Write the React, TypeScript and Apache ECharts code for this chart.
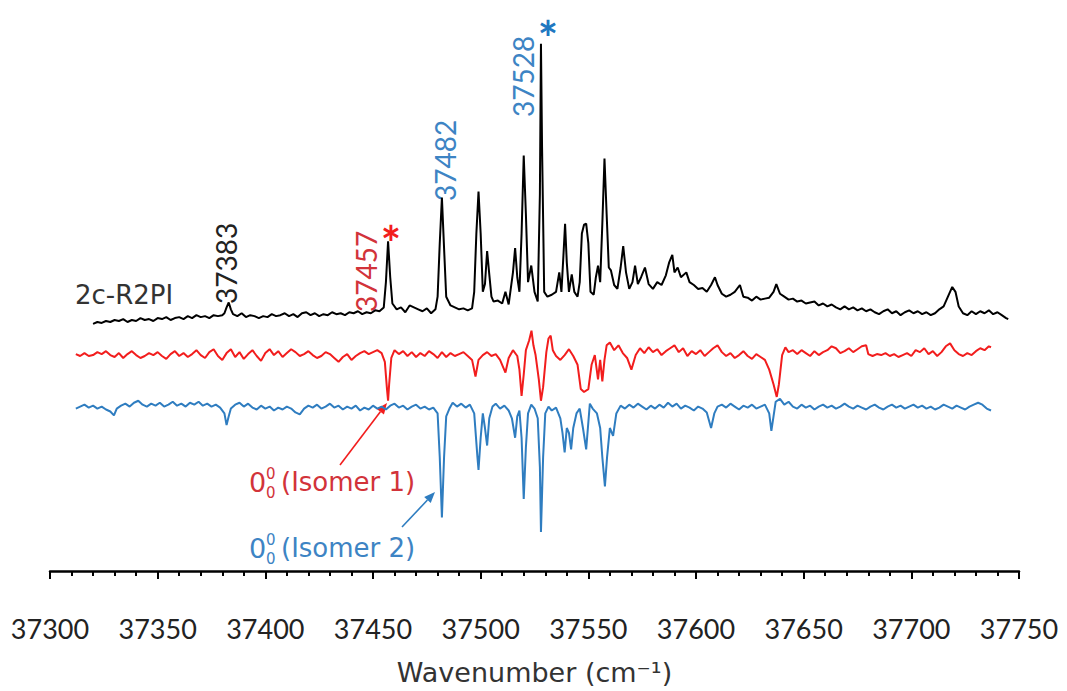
import React, { useEffect, useRef } from "react";
import * as echarts from "echarts";

// Wavenumber axis (cm^-1)
const X_MIN = 37300;
const X_MAX = 37750;
const X_STEP = 50;

// Display depth of each trace (stacked plot, grows downward, 0 = top of plot,
// 587 = wavenumber axis). Each trace keeps its own vertical offset.
const DEPTH_MAX = 587;

// 2c-R2PI spectrum: [wavenumber, depth]
const r2piTrace: [number, number][] = [
  [37320, 333], [37322, 331], [37324, 332], [37326, 330], [37328, 331], [37330, 329],
  [37332, 330], [37334, 328], [37336, 331], [37338, 329], [37340, 330], [37342, 327],
  [37344, 329], [37346, 328], [37348, 330], [37350, 327], [37352, 328], [37354, 326],
  [37356, 329], [37358, 327], [37360, 326], [37362, 328], [37364, 325], [37366, 327],
  [37368, 324], [37370, 326], [37372, 325], [37374, 327], [37376, 324], [37378, 325],
  [37380, 324], [37381, 322], [37382, 316], [37383, 311], [37384, 318], [37385, 323],
  [37387, 325], [37389, 322], [37391, 326], [37393, 324], [37395, 325], [37397, 327],
  [37399, 325], [37401, 326], [37403, 323], [37405, 325], [37407, 324], [37409, 322],
  [37411, 325], [37413, 323], [37415, 326], [37417, 322], [37419, 321], [37421, 324],
  [37423, 322], [37425, 325], [37427, 323], [37429, 324], [37431, 321], [37433, 323],
  [37435, 322], [37437, 324], [37439, 321], [37441, 322], [37443, 320], [37445, 323],
  [37447, 321], [37449, 322], [37451, 319], [37453, 320], [37455, 316], [37456, 290],
  [37457, 248], [37458, 285], [37459, 312], [37461, 318], [37463, 316], [37465, 321],
  [37467, 314], [37469, 316], [37471, 318], [37473, 320], [37475, 317], [37477, 322],
  [37479, 318], [37480, 305], [37481, 250], [37482, 203], [37483, 255], [37484, 305],
  [37486, 314], [37488, 316], [37490, 318], [37492, 317], [37494, 319], [37496, 317],
  [37497, 300], [37498, 240], [37499, 197], [37500, 240], [37501, 300], [37502, 292],
  [37503, 258], [37504, 282], [37505, 305], [37506, 310], [37508, 309], [37510, 312],
  [37511.5, 300], [37513, 313], [37515, 280], [37516, 255], [37517, 285], [37518, 300],
  [37519, 240], [37520, 160], [37521, 220], [37522, 290], [37523.5, 273], [37525, 300],
  [37526.5, 310], [37527.5, 200], [37528, 45], [37528.5, 150], [37529.5, 300], [37531, 305],
  [37533, 303], [37535, 300], [37536.5, 280], [37537.5, 300], [37538.5, 260], [37539.2, 230],
  [37540, 270], [37541, 300], [37542.3, 282], [37543.5, 300], [37545, 305], [37546, 290],
  [37547, 240], [37548, 231], [37549, 230], [37550, 250], [37551, 300], [37552.5, 303],
  [37553.5, 285], [37554.5, 273], [37555.5, 290], [37556.5, 230], [37557.5, 163], [37558.5, 220],
  [37559.5, 275], [37560.5, 278], [37562, 293], [37563.5, 297], [37565, 275], [37566.2, 253],
  [37567.5, 280], [37569, 297], [37570.5, 290], [37571.7, 273], [37573, 292], [37574.5, 285],
  [37576.3, 275], [37578, 292], [37580, 297], [37582, 290], [37584, 293], [37586, 283],
  [37587.5, 270], [37589, 262], [37590, 280], [37591.5, 275], [37593, 285], [37595.5, 280],
  [37597, 290], [37599, 293], [37601, 297], [37603, 296], [37605, 300], [37607, 293],
  [37608.8, 285], [37610, 293], [37612, 302], [37614, 305], [37616, 303], [37618, 300],
  [37620.4, 293], [37622, 305], [37624, 306], [37626, 309], [37628, 305], [37630, 308],
  [37632, 307], [37634, 306], [37636, 300], [37637.3, 292], [37639, 302], [37641, 305],
  [37643, 308], [37645, 307], [37647, 310], [37649, 309], [37651, 312], [37653, 311],
  [37655, 310], [37657, 314], [37659, 312], [37661, 315], [37663, 313], [37665, 316],
  [37667, 318], [37669, 315], [37671, 318], [37673, 316], [37675, 319], [37677, 317],
  [37679, 320], [37681, 318], [37683, 321], [37685, 323], [37687, 320], [37689, 318],
  [37691, 322], [37693, 320], [37695, 324], [37697, 321], [37699, 319], [37701, 322],
  [37703, 320], [37705, 323], [37707, 321], [37709, 324], [37711, 322], [37713, 318],
  [37715, 315], [37717, 305], [37719, 295], [37720.5, 300], [37722, 315], [37724, 322],
  [37726, 324], [37728, 320], [37730, 323], [37732, 320], [37734, 322], [37736, 319],
  [37738, 323], [37740, 321], [37742, 324], [37744, 327], [37745, 328],
];

// Isomer 1 selective trace (red): [wavenumber, depth]
const isomer1Trace: [number, number][] = [
  [37312, 364], [37314, 366], [37316, 363], [37318, 366], [37320, 365], [37322, 362],
  [37324, 364], [37326, 361], [37328, 365], [37330, 367], [37332, 363], [37334, 368],
  [37336, 364], [37338, 361], [37340, 365], [37342, 368], [37344, 366], [37346, 363],
  [37348, 365], [37350, 362], [37352, 366], [37354, 369], [37356, 364], [37358, 361],
  [37360, 366], [37362, 363], [37364, 367], [37366, 364], [37368, 360], [37370, 365],
  [37372, 368], [37374, 362], [37376, 359], [37378, 366], [37380, 370], [37382, 363],
  [37384, 359], [37386, 367], [37388, 362], [37390, 369], [37392, 364], [37394, 360],
  [37396, 366], [37398, 371], [37400, 363], [37402, 359], [37404, 365], [37406, 361],
  [37408, 367], [37410, 363], [37412, 359], [37414, 362], [37416, 366], [37418, 364],
  [37420, 361], [37422, 365], [37424, 368], [37426, 366], [37428, 362], [37430, 364],
  [37432, 368], [37434, 372], [37436, 367], [37438, 364], [37440, 370], [37442, 366],
  [37444, 363], [37446, 361], [37448, 364], [37450, 362], [37452, 360], [37454, 363],
  [37455.5, 372], [37456.5, 400], [37457, 412], [37457.5, 395], [37458.5, 368], [37460, 360],
  [37462, 364], [37464, 361], [37466, 366], [37468, 362], [37470, 367], [37472, 363],
  [37474, 366], [37476, 361], [37478, 364], [37480, 368], [37482, 362], [37484, 367],
  [37486, 363], [37488, 366], [37490, 364], [37492, 362], [37494, 366], [37496, 370],
  [37497.6, 387], [37499, 370], [37501, 365], [37503, 362], [37505, 366], [37507, 364],
  [37509, 370], [37511.5, 383], [37513, 368], [37515, 360], [37517, 366], [37518, 380],
  [37519, 407], [37520, 385], [37521, 360], [37522.5, 350], [37523.6, 340], [37524.5, 355],
  [37525.5, 365], [37527, 390], [37528, 412], [37529, 398], [37530.5, 362], [37531.5, 348],
  [37532.5, 345], [37533.5, 360], [37535, 366], [37537, 370], [37539, 365], [37541, 359],
  [37543, 366], [37545, 375], [37546.5, 400], [37548, 403], [37550, 400], [37551.5, 375],
  [37553, 365], [37554.5, 390], [37555.5, 370], [37556.5, 392], [37557.5, 370], [37558.5, 355],
  [37560, 352], [37562, 360], [37564, 355], [37566, 363], [37568, 368], [37570, 380],
  [37572, 365], [37574, 358], [37576, 363], [37578, 357], [37580, 362], [37582, 359],
  [37584, 365], [37586, 361], [37588, 358], [37590, 355], [37592, 362], [37594, 358],
  [37596, 366], [37598, 361], [37600, 364], [37602, 360], [37604, 366], [37606, 362],
  [37608, 358], [37610, 355], [37612, 362], [37614, 366], [37616, 363], [37618, 368],
  [37620, 365], [37622, 361], [37624, 366], [37626, 369], [37628, 364], [37630, 367],
  [37632, 370], [37634, 380], [37636, 395], [37637.5, 408], [37638.5, 395], [37640, 365],
  [37641.5, 357], [37643, 362], [37645, 360], [37647, 364], [37649, 360], [37651, 363],
  [37653, 366], [37655, 361], [37657, 365], [37659, 362], [37661, 360], [37663, 356],
  [37665, 358], [37667, 363], [37669, 361], [37671, 358], [37673, 362], [37675, 359],
  [37677, 356], [37679, 355], [37680, 364], [37682, 366], [37684, 364], [37686, 365],
  [37688, 363], [37690, 366], [37692, 364], [37694, 367], [37696, 365], [37698, 363],
  [37700, 366], [37702, 360], [37704, 362], [37706, 358], [37708, 364], [37710, 361],
  [37712, 366], [37714, 362], [37716, 356], [37718, 353], [37720, 360], [37722, 364],
  [37724, 366], [37726, 363], [37728, 365], [37730, 361], [37732, 358], [37734, 360],
  [37736, 356], [37737, 357],
];

// Isomer 2 selective trace (blue): [wavenumber, depth]
const isomer2Trace: [number, number][] = [
  [37312, 420], [37314, 418], [37316, 416], [37318, 419], [37320, 417], [37322, 420],
  [37324, 418], [37326, 421], [37328, 423], [37329.7, 427], [37331, 420], [37333, 417],
  [37335, 415], [37337, 418], [37339, 414], [37341, 412], [37343, 416], [37345, 418],
  [37347, 415], [37349, 417], [37351, 414], [37353, 418], [37355, 416], [37357, 413],
  [37359, 417], [37361, 415], [37363, 418], [37365, 414], [37367, 416], [37369, 413],
  [37371, 417], [37373, 415], [37375, 418], [37377, 416], [37379, 419], [37381, 425],
  [37382, 437], [37383, 428], [37384, 420], [37386, 416], [37388, 414], [37390, 418],
  [37392, 415], [37394, 419], [37396, 421], [37398, 417], [37400, 420], [37402, 418],
  [37404, 422], [37406, 419], [37408, 421], [37410, 418], [37412, 420], [37414, 424],
  [37416, 426], [37418, 420], [37420, 417], [37422, 419], [37424, 416], [37426, 420],
  [37428, 418], [37430, 415], [37432, 419], [37434, 417], [37436, 421], [37438, 418],
  [37440, 420], [37442, 417], [37444, 422], [37446, 419], [37448, 421], [37450, 417],
  [37452, 420], [37454, 418], [37456, 421], [37458, 417], [37460, 415], [37462, 419],
  [37464, 417], [37466, 421], [37468, 418], [37470, 416], [37472, 420], [37474, 418],
  [37476, 421], [37478, 419], [37480, 425], [37481, 470], [37482, 532], [37483, 470],
  [37484, 428], [37485.5, 420], [37487, 414], [37489, 418], [37491, 415], [37493, 419],
  [37495, 416], [37497, 425], [37498.5, 470], [37499, 483], [37500, 450], [37501, 425],
  [37502, 440], [37503, 458], [37504, 430], [37505.5, 418], [37507, 415], [37509, 420],
  [37511, 417], [37513, 422], [37514.5, 430], [37516, 450], [37517, 428], [37518, 422],
  [37519, 450], [37520, 513], [37521, 460], [37522, 425], [37523.5, 416], [37525, 420],
  [37526.5, 430], [37527.5, 480], [37528, 547], [37529, 470], [37530, 425], [37531.5, 418],
  [37533, 422], [37535, 419], [37537, 430], [37538, 445], [37539, 465], [37540, 440],
  [37541, 445], [37542, 462], [37543, 440], [37544.5, 425], [37546, 420], [37547.5, 440],
  [37549, 462], [37550.7, 415], [37552, 420], [37554, 425], [37555.5, 440], [37556.5, 470],
  [37557.7, 500], [37558.7, 470], [37560, 440], [37561.5, 448], [37563, 425], [37565, 417],
  [37567, 420], [37569, 416], [37571, 419], [37573, 415], [37575, 418], [37577, 421],
  [37579, 417], [37581, 420], [37583, 416], [37585, 419], [37587, 414], [37589, 418],
  [37591, 415], [37593, 420], [37595, 417], [37597, 419], [37599, 422], [37601, 418],
  [37603, 420], [37605, 424], [37607, 440], [37608.5, 425], [37610, 418], [37612, 416],
  [37614, 419], [37616, 415], [37618, 418], [37620, 421], [37622, 417], [37624, 419],
  [37626, 416], [37628, 420], [37630, 418], [37632, 416], [37634, 425], [37635, 443],
  [37636, 428], [37637, 413], [37639, 410], [37641, 416], [37643, 413], [37645, 418],
  [37647, 420], [37649, 416], [37651, 419], [37653, 417], [37655, 421], [37657, 418],
  [37659, 416], [37661, 419], [37663, 417], [37665, 420], [37667, 418], [37669, 415],
  [37671, 418], [37673, 420], [37675, 417], [37677, 419], [37679, 421], [37681, 418],
  [37683, 416], [37685, 419], [37687, 421], [37689, 418], [37691, 416], [37693, 419],
  [37695, 417], [37697, 420], [37699, 418], [37701, 416], [37703, 419], [37705, 417],
  [37707, 420], [37709, 418], [37711, 421], [37713, 419], [37715, 416], [37717, 418],
  [37719, 420], [37721, 417], [37723, 419], [37725, 421], [37727, 418], [37729, 416],
  [37731, 414], [37733, 416], [37735, 420], [37737, 422],
];

const NUM_FONT = "Lato, 'Open Sans', sans-serif";
const TEXT_FONT = "'DejaVu Sans', 'Noto Sans', sans-serif";
const BLACK = "#000000";
const RED = "#f21d1d";
const BLUE = "#2f7dc0";
const RED_TEXT = "#d2333a";
const BLUE_TEXT = "#3d84c4";

function arrow(x1: number, y1: number, x2: number, y2: number, color: string) {
  const dx = x2 - x1;
  const dy = y2 - y1;
  const len = Math.sqrt(dx * dx + dy * dy);
  const ux = dx / len;
  const uy = dy / len;
  const head = 11;
  const half = 4.5;
  const bx = x2 - ux * head;
  const by = y2 - uy * head;
  return [
    {
      type: "line",
      shape: { x1, y1, x2: bx, y2: by },
      style: { stroke: color, lineWidth: 1.6 },
    },
    {
      type: "polygon",
      shape: {
        points: [
          [x2, y2],
          [bx - uy * half, by + ux * half],
          [bx + uy * half, by - ux * half],
        ],
      },
      style: { fill: color },
    },
  ];
}

function vText(x: number, y: number, text: string, color: string) {
  return {
    type: "text",
    x,
    y,
    rotation: Math.PI / 2,
    style: {
      text,
      fill: color,
      font: `28px ${NUM_FONT}`,
      align: "left",
      verticalAlign: "middle",
    },
  };
}

// "0 with 0 superscript and 0 subscript" followed by the isomer name
function originLabel(x: number, y: number, rest: string, color: string) {
  return [
    { type: "text", x, y, style: { text: "0", fill: color, font: `27px ${TEXT_FONT}`, align: "left", verticalAlign: "middle" } },
    { type: "text", x: x + 17, y: y - 1, style: { text: "0", fill: color, font: `15px ${TEXT_FONT}`, align: "left", verticalAlign: "bottom" } },
    { type: "text", x: x + 17, y: y + 3, style: { text: "0", fill: color, font: `15px ${TEXT_FONT}`, align: "left", verticalAlign: "top" } },
    { type: "text", x: x + 32, y, style: { text: rest, fill: color, font: `26px ${TEXT_FONT}`, align: "left", verticalAlign: "middle" } },
  ];
}

export default function App() {
  const ref = useRef<HTMLDivElement>(null);

  useEffect(() => {
    if (!ref.current) return;
    const chart = echarts.init(ref.current, null, { renderer: "svg" });

    const lineSeries = (name: string, data: [number, number][], color: string) => ({
      name,
      type: "line",
      data,
      showSymbol: false,
      smooth: false,
      lineStyle: { color, width: 2 },
      emphasis: { disabled: true },
    });

    chart.setOption({
      animation: false,
      backgroundColor: "#ffffff",
      grid: { left: 50, right: 48, top: 0, bottom: 104, containLabel: false },
      xAxis: {
        type: "value",
        min: X_MIN,
        max: X_MAX,
        interval: X_STEP,
        name: "Wavenumber (cm⁻¹)",
        nameLocation: "middle",
        nameGap: 88,
        nameTextStyle: { fontFamily: TEXT_FONT, fontSize: 27, color: "#333333" },
        axisLine: { show: true, onZero: false, lineStyle: { color: "#000", width: 2.5 } },
        axisTick: { show: true, inside: false, length: 8, lineStyle: { color: "#000", width: 2 } },
        minorTick: { show: true, splitNumber: 5, length: 5, lineStyle: { color: "#000", width: 2 } },
        axisLabel: {
          margin: 44,
          fontFamily: NUM_FONT,
          fontSize: 27,
          color: "#222222",
          showMinLabel: true,
          showMaxLabel: true,
          formatter: (v: number) => String(v),
        },
        splitLine: { show: false },
      },
      yAxis: {
        type: "value",
        inverse: true,
        min: 0,
        max: DEPTH_MAX,
        show: false,
      },
      series: [
        lineSeries("2c-R2PI", r2piTrace, BLACK),
        lineSeries("Isomer 1", isomer1Trace, RED),
        lineSeries("Isomer 2", isomer2Trace, BLUE),
      ],
      graphic: [
        {
          type: "text",
          x: 75,
          y: 295,
          style: { text: "2c-R2PI", fill: "#333333", font: `26px ${TEXT_FONT}`, align: "left", verticalAlign: "middle" },
        },
        vText(226, 304, "37383", "#222222"),
        vText(366, 312, "37457", RED_TEXT),
        vText(445, 201, "37482", BLUE_TEXT),
        vText(523, 117, "37528", BLUE_TEXT),
        {
          type: "text",
          x: 391,
          y: 242,
          style: { text: "*", fill: RED, font: `bold 48px ${NUM_FONT}`, align: "center", verticalAlign: "middle" },
        },
        {
          type: "text",
          x: 548,
          y: 37,
          style: { text: "*", fill: "#1f78c1", font: `bold 48px ${NUM_FONT}`, align: "center", verticalAlign: "middle" },
        },
        ...arrow(340, 465, 387, 403, RED),
        ...arrow(402, 527, 435, 492, BLUE),
        ...originLabel(249, 482, "(Isomer 1)", RED_TEXT),
        ...originLabel(249, 548, "(Isomer 2)", BLUE_TEXT),
      ],
    });

    return () => chart.dispose();
  }, []);

  return (
    <div
      ref={ref}
      style={{ position: "absolute", left: 0, top: 0, width: 1067, height: 691 }}
    />
  );
}
